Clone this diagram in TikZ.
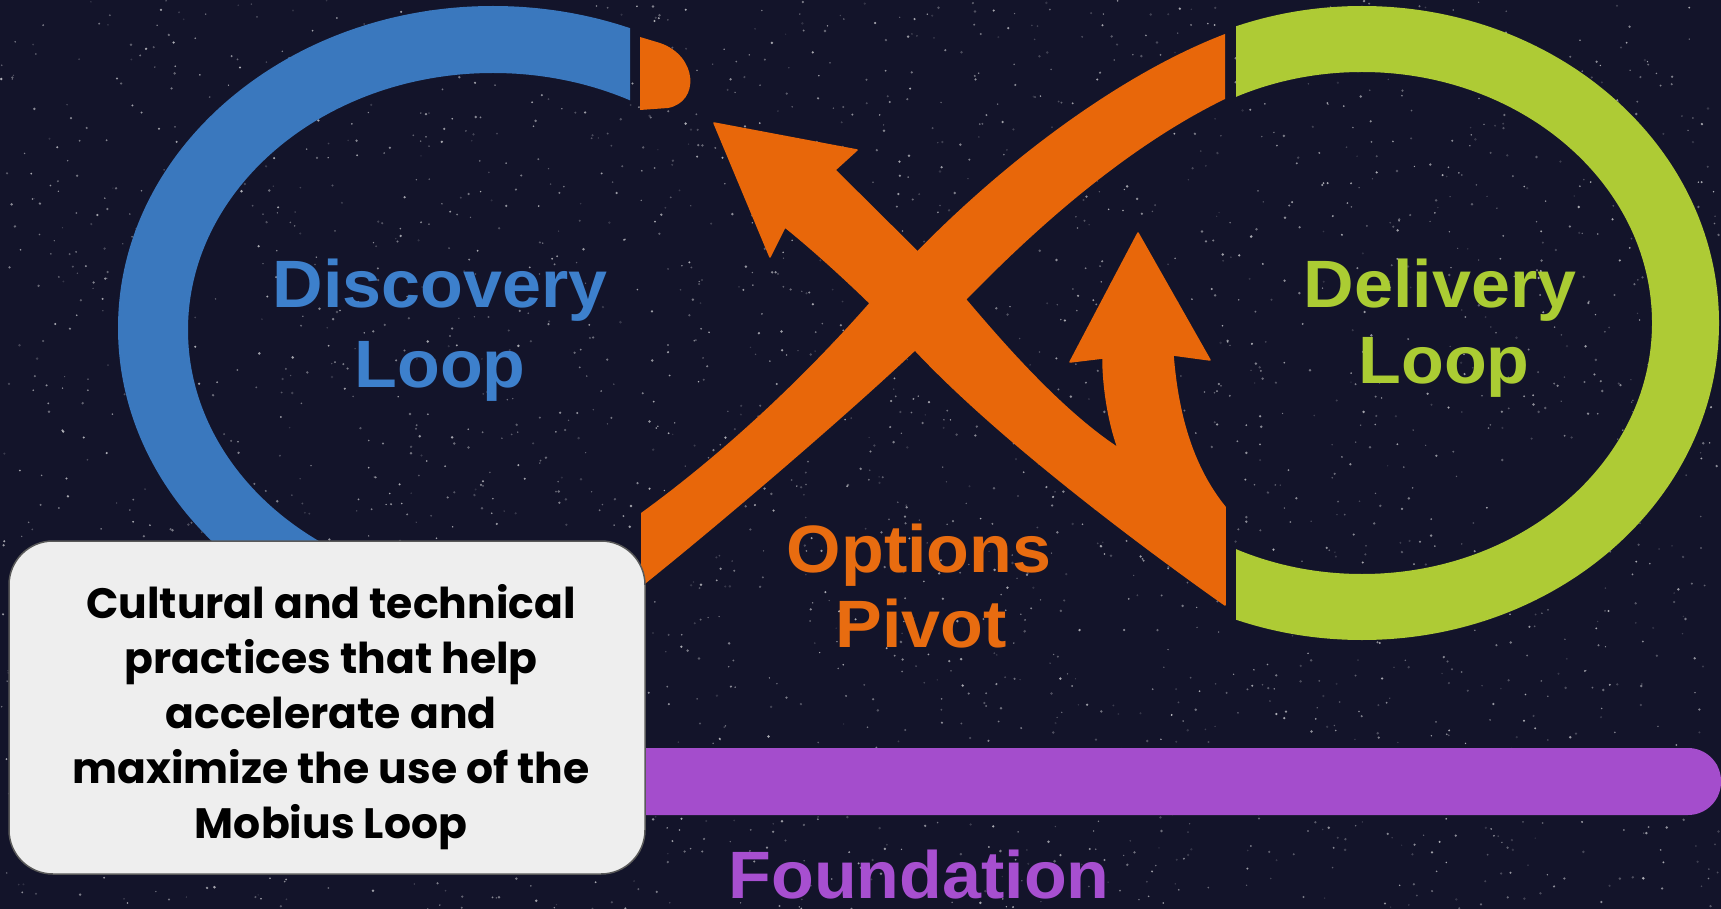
\documentclass[tikz,border=0pt]{standalone}
\usepackage{fontspec}
\setmainfont{Liberation Sans}
\newfontfamily\popf{Poppins}
\definecolor{bgc}{HTML}{13142A}
\definecolor{bluec}{HTML}{3A78BE}
\definecolor{orangec}{HTML}{E8670A}
\definecolor{greenc}{HTML}{AECB35}
\definecolor{purplec}{HTML}{A44DCC}
\definecolor{boxc}{HTML}{EEEEEE}
\definecolor{tblue}{HTML}{3D80CC}
\definecolor{tgreen}{HTML}{ABCC33}
\definecolor{torange}{HTML}{E86C10}
\definecolor{tpurple}{HTML}{A74FD0}
\tikzset{
  biglabel/.style={anchor=base, inner sep=0pt, font=\fontsize{67}{80}\selectfont\bfseries},
  boxline/.style={anchor=base, inner sep=0pt, font=\popf\fontsize{42.5}{55}\selectfont\bfseries, text=black},
  panel/.style={draw=black!65, line width=1.5pt, fill=boxc, rounded corners=44pt, minimum width=636pt, minimum height=333pt, inner sep=0pt},
  band/.style={fill=orangec, draw=orangec, line width=1.5pt, line join=round}
}
\newcommand{\wide}[1]{\scalebox{1.045}[1]{#1}}
\begin{document}
\begin{tikzpicture}[x=1pt,y=-1pt]
\useasboundingbox (0,0) rectangle (1721,909);
\fill[bgc] (0,0) rectangle (1721,909);
% stars
\pgfmathsetseed{7}
\foreach \i in {1,...,3000}{
  \pgfmathsetmacro\sx{rnd*1721}
  \pgfmathsetmacro\sy{rnd*909}
  \pgfmathsetmacro\so{0.12+0.55*rnd}
  \pgfmathsetmacro\sr{0.7+0.7*rnd}
  \fill[white,opacity=\so] (\sx,\sy) circle (\sr);
}
% blue discovery ring
\begin{scope}
  \clip (0,0) rectangle (630,909);
  \fill[bluec,even odd rule] (493,328) ellipse (375 and 322) (493,330) ellipse (305 and 257);
\end{scope}
% green delivery ring
\begin{scope}
  \clip (1236,0) rectangle (1721,909);
  \fill[greenc,even odd rule] (1362,323) ellipse (357 and 317) (1362,323) ellipse (290 and 251);
\end{scope}
% small orange cap
\fill[orangec] (640,37) -- (660,43) .. controls (698,56) and (700,102) .. (668,108) -- (640,110) -- cycle;
% orange band A (lower left to upper right)
\fill[orangec] (641,513) .. controls (721,455) and (802,380) .. (872,300)
  .. controls (975,182) and (1110,78) .. (1225,34)
  -- (1225,99) .. controls (1110,155) and (1010,255) .. (966,300)
  .. controls (910,362) and (730,516) .. (641,587) -- cycle;
% orange band B with arrows
\path[band] (785,227) -- (770,257) -- (714,123) -- (857,150) -- (835,170)
  -- (966,300) .. controls (1000,340) and (1060,410) .. (1118,448)
  .. controls (1108,420) and (1103,385) .. (1103,358)
  -- (1070,362) -- (1138,233) -- (1210,360) -- (1173,355)
  .. controls (1178,420) and (1195,470) .. (1225,507)
  -- (1225,605) .. controls (1140,545) and (1000,440) .. (917,352)
  .. controls (880,310) and (820,255) .. (785,227) -- cycle;
% foundation bar
\fill[purplec, rounded corners=33pt] (400,748) rectangle (1721,815);
% labels
\node[biglabel, text=tblue] (disc1) at (440,307) {\wide{Discovery}};
\node[biglabel, text=tblue] (disc2) at (440,387) {\wide{Loop}};
\node[biglabel, text=tgreen] (deli1) at (1440,307) {\wide{Delivery}};
\node[biglabel, text=tgreen] (deli2) at (1444,383) {\wide{Loop}};
\node[biglabel, text=torange] (opt1) at (919,572) {\wide{Options}};
\node[biglabel, text=torange] (opt2) at (921,647) {\wide{Pivot}};
\node[biglabel, text=tpurple] (found) at (919,898) {\wide{Foundation}};
% info panel
\node[panel] (panel) at (327,707.5) {};
\node[boxline] (l1) at (331,618) {Cultural and technical};
\node[boxline] (l2) at (331,673) {practices that help};
\node[boxline] (l3) at (331,728) {accelerate and};
\node[boxline] (l4) at (331,783) {maximize the use of the};
\node[boxline] (l5) at (331,838) {Mobius Loop};
\end{tikzpicture}
\end{document}
